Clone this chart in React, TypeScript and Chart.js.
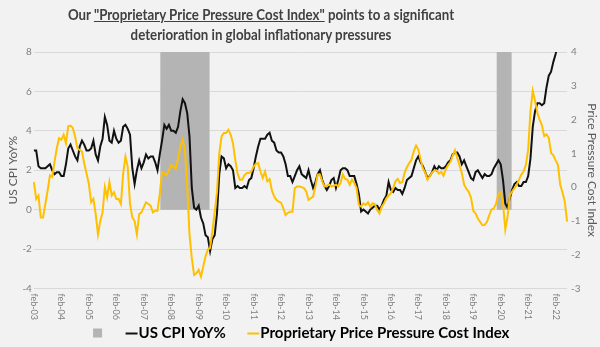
import React, { useEffect, useRef } from 'react';
import { Chart, registerables } from 'chart.js';

Chart.register(...registerables);

// Monthly categories: Feb 2003 .. Jul 2022
const START_YEAR = 2003;
const START_MONTH = 1; // 0-based (Feb)
const N_MONTHS = 234;
const MONTH_NAMES = ['jan', 'feb', 'mar', 'apr', 'may', 'jun', 'jul', 'aug', 'sep', 'oct', 'nov', 'dec'];
const categories: string[] = Array.from({ length: N_MONTHS }, (_, i) => {
  const t = START_MONTH + i;
  const y = START_YEAR + Math.floor(t / 12);
  return MONTH_NAMES[t % 12] + '-' + String(y % 100).padStart(2, '0');
});

const xTickLabels = [
  'feb-03', 'feb-04', 'feb-05', 'feb-06', 'feb-07', 'feb-08', 'feb-09', 'feb-10', 'feb-11', 'feb-12',
  'feb-13', 'feb-14', 'feb-15', 'feb-16', 'feb-17', 'feb-18', 'feb-19', 'feb-20', 'feb-21', 'feb-22',
];

const leftTicks = { min: -4, max: 8, step: 2 };
const rightTicks = { min: -3, max: 4, step: 1 };

// US CPI YoY% (Feb 2003 .. Mar 2022)
const cpiYoY: (number | null)[] = [
  3.0, 3.0, 2.2, 2.1, 2.1, 2.1, 2.2, 2.3, 2.0, 1.8, 1.9,
  1.9, 1.7, 1.7, 2.3, 3.1, 3.3, 3.0, 2.7, 2.5, 3.2, 3.5, 3.3,
  3.0, 3.0, 3.1, 3.5, 2.8, 2.5, 3.2, 3.6, 4.7, 4.3, 3.5, 3.4,
  4.0, 3.6, 3.4, 3.5, 4.2, 4.3, 4.1, 3.8, 2.1, 1.3, 2.0, 2.5,
  2.1, 2.4, 2.8, 2.6, 2.7, 2.7, 2.4, 2.0, 2.8, 3.5, 4.3, 4.1,
  4.3, 4.0, 4.0, 3.9, 4.2, 5.0, 5.6, 5.4, 4.9, 3.7, 1.1, 0.1,
  0.0, 0.2, -0.4, -0.7, -1.3, -1.4, -2.1, -1.5, -1.3, -0.2, 1.8, 2.7,
  2.6, 2.1, 2.3, 2.2, 2.0, 1.1, 1.2, 1.1, 1.1, 1.2, 1.1, 1.5,
  1.6, 2.1, 2.7, 3.2, 3.6, 3.6, 3.6, 3.8, 3.9, 3.5, 3.4, 3.0,
  2.9, 2.9, 2.7, 2.3, 1.7, 1.7, 1.4, 1.7, 2.0, 2.2, 1.8, 1.7,
  1.6, 2.0, 1.5, 1.1, 1.4, 1.8, 2.0, 1.5, 1.2, 1.0, 1.2, 1.5,
  1.6, 1.1, 1.5, 2.0, 2.1, 2.1, 2.0, 1.7, 1.7, 1.7, 1.3, 0.8,
  -0.1, 0.0, -0.1, -0.2, 0.0, 0.1, 0.2, 0.2, 0.0, 0.2, 0.5, 0.7,
  1.4, 1.0, 0.9, 1.1, 1.0, 1.0, 0.8, 1.1, 1.5, 1.6, 1.7, 2.1,
  2.5, 2.7, 2.4, 2.2, 1.9, 1.6, 1.7, 1.9, 2.2, 2.0, 2.2, 2.1,
  2.1, 2.2, 2.4, 2.5, 2.8, 2.9, 2.9, 2.7, 2.3, 2.5, 2.2, 1.9,
  1.6, 1.5, 1.9, 2.0, 1.8, 1.6, 1.8, 1.7, 1.7, 1.8, 2.1, 2.3,
  2.5, 2.3, 1.5, 0.3, 0.1, 0.6, 1.0, 1.3, 1.4, 1.2, 1.2, 1.4,
  1.4, 1.7, 2.6, 4.2, 5.0, 5.4, 5.4, 5.3, 5.4, 6.2, 6.8, 7.0,
  7.5, 7.9, 8.5,
];

// Proprietary Price Pressure Cost Index (Feb 2003 .. Jul 2022)
const ppcIndex: number[] = [
  0.15, -0.35, -0.25, -0.9, -0.9, -0.5, -0.1, 0.35, 0.3, 0.75, 1.15,
  1.45, 1.4, 1.55, 1.3, 1.8, 1.82, 1.75, 1.5, 1.15, 1.1, 1.05, 0.7,
  0.4, 0.1, -0.45, -0.35, -0.8, -1.4, -1.0, -0.75, 0.0, -0.3, 0.15, -0.25,
  -0.15, -0.35, -0.35, -0.5, 0.4, 0.9, 0.6, -0.5, -0.9, -1.0, -1.4, -0.8,
  -0.75, -0.6, -0.45, -0.5, -0.55, -0.75, -0.7, -0.7, -0.2, 0.45, 0.4, 0.35,
  0.5, 0.65, 0.6, 0.55, 0.85, 1.2, 1.4, 1.1, 0.0, -1.4, -2.1, -2.6,
  -2.55, -2.45, -2.65, -2.35, -2.05, -1.85, -1.8, -1.3, -0.75, -0.15, 1.0, 1.5,
  1.6, 1.6, 1.7, 1.55, 1.3, 0.8, 0.4, 0.22, 0.22, 0.35, 0.42, 0.42,
  0.46, 0.61, 0.69, 0.71, 0.46, 0.27, 0.46, 0.17, 0.24, -0.1, -0.28, -0.38,
  -0.43, -0.46, -0.63, -0.83, -0.76, -0.73, -0.73, -0.03, 0.02, 0.02, 0.0, -0.03,
  -0.13, -0.38, -0.33, -0.28, 0.02, 0.37, 0.37, 0.17, 0.02, 0.04, 0.07, 0.02,
  0.04, 0.07, 0.02, 0.12, 0.37, 0.24, 0.22, 0.07, 0.22, 0.12, -0.03, -0.53,
  -0.58, -0.48, -0.53, -0.45, -0.58, -0.48, -0.51, -0.68, -0.78, -0.58, -0.48, -0.33,
  -0.25, -0.18, -0.03, 0.17, 0.24, 0.12, 0.15, 0.42, 0.59, 0.71, 0.81, 1.06,
  1.23, 1.11, 0.81, 0.56, 0.43, 0.22, 0.32, 0.43, 0.49, 0.5, 0.4, 0.45,
  0.34, 0.53, 0.65, 0.74, 0.93, 1.09, 0.86, 0.64, 0.42, 0.07, -0.05, -0.14,
  -0.31, -0.7, -0.78, -0.93, -1.03, -1.13, -1.12, -1.03, -0.83, -0.66, -0.63, -0.48,
  -0.21, -0.14, -0.48, -1.25, -0.87, -0.23, -0.13, -0.03, 0.07, 0.22, 0.37, 0.46,
  0.66, 1.11, 2.25, 2.85, 2.55, 2.2, 2.0, 1.83, 1.51, 1.56, 1.46, 1.01,
  0.94, 0.79, 0.66, 0.07, -0.16, -0.43, -1.02,
];

// Shaded (recession) periods, as [first, last] category labels
const shadedPeriods: [string, string][] = [
  ['oct-07', 'jun-09'],
  ['jan-20', 'jun-20'],
];
const SHADE_LEVEL = 8;

const seriesNames = ['', 'US CPI YoY%', 'Proprietary Price Pressure Cost Index'];
const COLORS = { shade: '#b4b4b4', cpi: '#111111', ppc: '#ffc000', grid: '#d9d9d9', tick: '#7f7f7f', title: '#595959', bg: '#f2f2f2' };
const FONT = 'Lato, "Open Sans", sans-serif';
const LEGEND_SHIFT = -9;

function shadeData(): (number | null)[] {
  const out: (number | null)[] = categories.map(() => null);
  shadedPeriods.forEach(([a, b]) => {
    const i0 = categories.indexOf(a);
    const i1 = categories.indexOf(b);
    for (let i = i0; i <= i1; i++) out[i] = SHADE_LEVEL;
  });
  return out;
}

function swatch(kind: 'box' | 'line', color: string): HTMLCanvasElement {
  const c = document.createElement('canvas');
  c.width = 40;
  c.height = 14;
  const g = c.getContext('2d')!;
  g.fillStyle = color;
  if (kind === 'box') g.fillRect(27, 2, 9, 9);
  else g.fillRect(25, 6, 12, 2);
  return c;
}

export default function App() {
  const ref = useRef<HTMLCanvasElement | null>(null);

  useEffect(() => {
    if (!ref.current) return;

    const bgPlugin = {
      id: 'bg',
      beforeDraw(chart: any) {
        const { ctx, width, height } = chart;
        ctx.save();
        ctx.fillStyle = COLORS.bg;
        ctx.fillRect(0, 0, width, height);
        ctx.restore();
      },
    };

    const legendShiftPlugin = {
      id: 'legendShift',
      afterLayout(chart: any) {
        const lg = chart.legend;
        if (lg) {
          lg.left += LEGEND_SHIFT;
          lg.right += LEGEND_SHIFT;
        }
      },
    };

    const xLabelPlugin = {
      id: 'xLabels',
      afterDraw(chart: any) {
        const sc = chart.scales.x;
        const ctx = chart.ctx;
        ctx.save();
        ctx.font = '9px ' + FONT;
        ctx.fillStyle = COLORS.tick;
        ctx.textAlign = 'left';
        ctx.textBaseline = 'middle';
        xTickLabels.forEach((lab) => {
          const idx = categories.indexOf(lab);
          const px = sc.getPixelForValue(idx);
          ctx.save();
          ctx.translate(px, sc.top + 5);
          ctx.rotate(Math.PI / 2);
          ctx.fillText(lab, 0, 0);
          ctx.restore();
        });
        ctx.restore();
      },
    };

    const swatches = [swatch('box', COLORS.shade), swatch('line', COLORS.cpi), swatch('line', COLORS.ppc)];

    const chart = new Chart(ref.current, {
      type: 'line',
      data: {
        labels: categories,
        datasets: [
          {
            type: 'bar',
            label: seriesNames[0],
            data: shadeData(),
            backgroundColor: COLORS.shade,
            barPercentage: 1,
            categoryPercentage: 1,
            inflateAmount: 0.6,
            yAxisID: 'y',
            order: 3,
          } as any,
          {
            type: 'line',
            label: seriesNames[1],
            data: cpiYoY,
            borderColor: COLORS.cpi,
            borderWidth: 2,
            pointRadius: 0,
            tension: 0,
            yAxisID: 'y',
            order: 2,
          },
          {
            type: 'line',
            label: seriesNames[2],
            data: ppcIndex,
            borderColor: COLORS.ppc,
            borderWidth: 2,
            pointRadius: 0,
            tension: 0,
            yAxisID: 'y1',
            order: 1,
          },
        ],
      },
      options: {
        animation: false,
        responsive: false,
        maintainAspectRatio: false,
        layout: { padding: { top: 52, left: 3, right: 0, bottom: -4 } },
        plugins: {
          tooltip: { enabled: false },
          title: { display: false },
          legend: {
            position: 'bottom',
            labels: {
              usePointStyle: true,
              pointStyleWidth: 21,
              padding: 6,
              color: '#262626',
              font: { family: FONT, size: 15, weight: 'bold' },
              generateLabels: () =>
                seriesNames.map((t, i) => ({
                  text: t,
                  pointStyle: swatches[i],
                  fillStyle: 'transparent',
                  strokeStyle: 'transparent',
                  lineWidth: 0,
                  hidden: false,
                  datasetIndex: i,
                })),
            },
          },
        },
        scales: {
          x: {
            type: 'category',
            offset: false,
            grid: { display: false, drawTicks: false },
            border: { display: false },
            ticks: {
              autoSkip: false,
              minRotation: 90,
              maxRotation: 90,
              color: 'rgba(0,0,0,0)',
              font: { family: FONT, size: 9 },
              padding: 2.5,
              callback: (_v: any, i: number) => (i % 12 === 0 ? xTickLabels[i / 12] : ''),
            },
          },
          y: {
            position: 'left',
            min: leftTicks.min,
            max: leftTicks.max,
            border: { display: false },
            grid: { color: COLORS.grid, lineWidth: 1, drawTicks: false },
            ticks: { stepSize: leftTicks.step, color: COLORS.tick, font: { family: FONT, size: 10 }, padding: 2 },
            title: {
              display: true,
              text: 'US CPI YoY%',
              color: COLORS.title,
              font: { family: FONT, size: 12 },
              padding: { top: 3, bottom: 0 },
            },
          },
          y1: {
            position: 'right',
            min: rightTicks.min,
            max: rightTicks.max,
            border: { display: false },
            grid: { display: false, drawTicks: false },
            ticks: { stepSize: rightTicks.step, color: COLORS.tick, font: { family: FONT, size: 10 }, padding: 4 },
            title: {
              display: true,
              text: 'Price Pressure Cost Index',
              color: COLORS.title,
              font: { family: FONT, size: 12 },
              padding: { top: 1, bottom: 0 },
            },
          },
        },
      } as any,
      plugins: [bgPlugin, legendShiftPlugin, xLabelPlugin],
    });

    return () => chart.destroy();
  }, []);

  return (
    <div style={{ position: 'fixed', left: 0, top: 0, width: 600, height: 347, background: COLORS.bg, overflow: 'hidden' }}>
      <canvas ref={ref} width={600} height={347} style={{ position: 'absolute', left: 0, top: 0, width: 600, height: 347 }} />
      <div
        style={{
          position: 'absolute',
          left: 0,
          top: 4,
          width: 522,
          textAlign: 'center',
          fontFamily: FONT,
          fontWeight: 'bold',
          fontSize: 16,
          lineHeight: '20px',
          color: '#404040',
          transform: 'scaleX(0.83)',
          transformOrigin: '261px 0',
        }}
      >
        Our <span style={{ textDecoration: 'underline' }}>"Proprietary Price Pressure Cost Index"</span> points to a significant
        <br />
        deterioration in global inflationary pressures
      </div>
    </div>
  );
}
